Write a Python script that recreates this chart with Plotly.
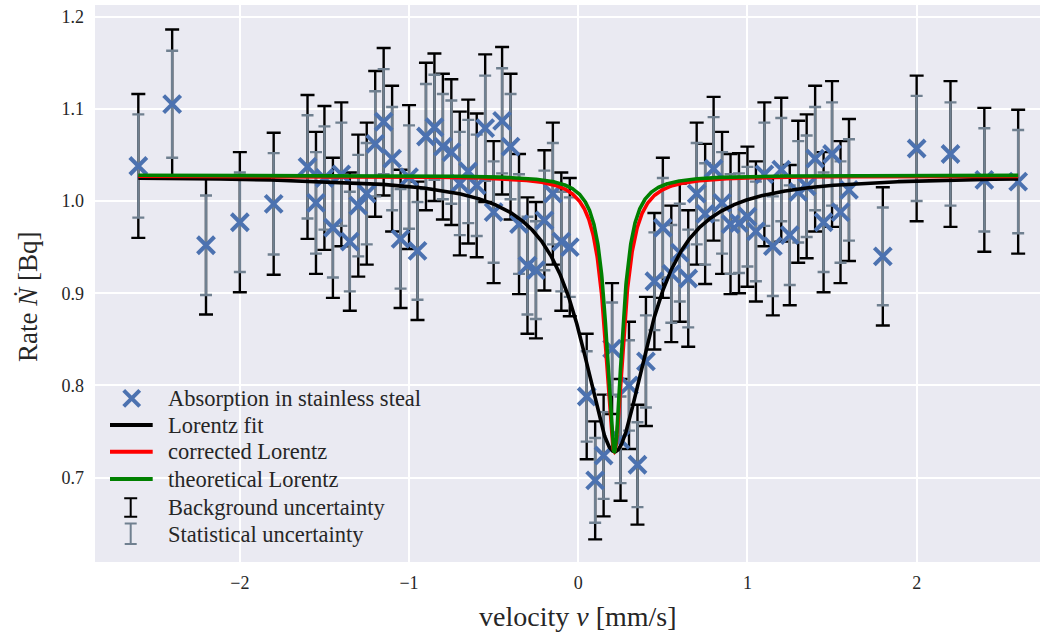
import numpy as np
import plotly.graph_objects as go

# ---------------- data ----------------
velocity = [-2.6, -2.4, -2.2, -2.0, -1.8,
            -1.60, -1.55, -1.50, -1.45, -1.40, -1.35, -1.30, -1.25, -1.20, -1.15,
            -1.10, -1.05, -1.00, -0.95, -0.90, -0.85, -0.80, -0.75, -0.70, -0.65,
            -0.60, -0.55, -0.50, -0.45, -0.40, -0.35, -0.30, -0.25, -0.20, -0.15,
            -0.10, -0.05,
            0.05, 0.10, 0.15, 0.20, 0.25, 0.30, 0.35, 0.40, 0.45, 0.50,
            0.55, 0.60, 0.65, 0.70, 0.75, 0.80, 0.85, 0.90, 0.95, 1.00,
            1.05, 1.10, 1.15, 1.20, 1.25, 1.30, 1.35, 1.40, 1.45, 1.50,
            1.55, 1.60,
            1.8, 2.0, 2.2, 2.4, 2.6]

rate = [1.038, 1.105, 0.952, 0.977, 0.997,
        1.037, 0.998, 1.025, 0.971, 1.029, 0.956, 0.995, 1.008, 1.062, 1.086,
        1.046, 0.959, 1.026, 0.946, 1.070, 1.080, 1.059, 1.053, 1.019, 1.032,
        1.017, 1.079, 0.988, 1.087, 1.059, 0.975, 0.930, 0.925, 0.979, 1.008,
        0.956, 0.950,
        0.788, 0.697, 0.724, 0.840, 0.741, 0.800, 0.714, 0.826, 0.913, 0.971,
        0.921, 0.944, 0.916, 1.008, 0.986, 1.035, 0.998, 0.975, 0.976, 0.983,
        0.967, 1.029, 0.951, 1.034, 0.963, 1.010, 1.016, 1.046, 0.977, 1.051,
        0.988, 1.012,
        0.940, 1.057, 1.051, 1.023, 1.021]

stat_err = [0.056, 0.058, 0.054, 0.054, 0.055,
            0.056, 0.055, 0.056, 0.054, 0.056, 0.054, 0.055, 0.055, 0.057, 0.057,
            0.056, 0.054, 0.056, 0.053, 0.057, 0.057, 0.057, 0.056, 0.056, 0.056,
            0.055, 0.057, 0.055, 0.057, 0.057, 0.054, 0.053, 0.053, 0.054, 0.055,
            0.054, 0.054,
            0.049, 0.046, 0.047, 0.050, 0.047, 0.049, 0.046, 0.050, 0.053, 0.054,
            0.053, 0.053, 0.053, 0.055, 0.055, 0.056, 0.055, 0.054, 0.054, 0.054,
            0.054, 0.056, 0.054, 0.056, 0.054, 0.055, 0.055, 0.056, 0.054, 0.056,
            0.055, 0.055,
            0.053, 0.057, 0.056, 0.056, 0.056]

bg_err = [0.078, 0.081, 0.075, 0.076, 0.077,
          0.078, 0.077, 0.078, 0.076, 0.078, 0.075, 0.077, 0.077, 0.079, 0.080,
          0.079, 0.075, 0.078, 0.075, 0.080, 0.080, 0.079, 0.079, 0.078, 0.078,
          0.078, 0.080, 0.077, 0.080, 0.079, 0.076, 0.074, 0.074, 0.076, 0.077,
          0.075, 0.075,
          0.068, 0.064, 0.066, 0.071, 0.066, 0.069, 0.065, 0.070, 0.074, 0.076,
          0.074, 0.075, 0.074, 0.077, 0.076, 0.078, 0.077, 0.076, 0.076, 0.076,
          0.076, 0.078, 0.075, 0.078, 0.076, 0.077, 0.078, 0.079, 0.076, 0.079,
          0.077, 0.077,
          0.075, 0.079, 0.079, 0.078, 0.078]

# Lorentz parameters (offset, depth, centre, half width)
fit_params = (1.027, 0.299, 0.215, 0.240)
corrected_params = (1.027, 0.299, 0.213, 0.065)
theoretical_params = (1.028, 0.300, 0.213, 0.056)

x_ticks = [-2, -1, 0, 1, 2]
y_ticks = [0.7, 0.8, 0.9, 1.0, 1.1, 1.2]


def lorentz(x, c, a, x0, g):
    return c - a * g ** 2 / ((x - x0) ** 2 + g ** 2)


xs = np.linspace(min(velocity), max(velocity), 3000)

BLUE = "#4C72B0"
GRAY = "#708090"
TXT = "#262626"
FONT = "Liberation Serif"

fig = go.Figure()

fig.add_trace(go.Scatter(
    x=velocity, y=rate, mode="markers",
    marker=dict(size=1, color="rgba(0,0,0,0)"),
    error_y=dict(type="data", array=bg_err, color="black", thickness=2.4, width=7),
    showlegend=False, hoverinfo="skip"))
fig.add_trace(go.Scatter(
    x=velocity, y=rate, mode="markers",
    marker=dict(size=1, color="rgba(0,0,0,0)"),
    error_y=dict(type="data", array=stat_err, color=GRAY, thickness=2.4, width=6),
    showlegend=False, hoverinfo="skip"))
fig.add_trace(go.Scatter(
    x=velocity, y=rate, mode="markers",
    marker=dict(symbol="x-thin", size=17, color=BLUE, line=dict(width=4, color=BLUE)),
    showlegend=False))
for params, col in [(fit_params, "black"), (corrected_params, "red"),
                    (theoretical_params, "green")]:
    fig.add_trace(go.Scatter(x=xs, y=lorentz(xs, *params), mode="lines",
                             line=dict(color=col, width=3.6), showlegend=False))

# ---------------- manual legend ----------------
L, R, T, B = 95, 1040, 5, 562
W, H = R - L, B - T


def px(xp):
    return (xp - L) / W


def py(yp):
    return (B - yp) / H


shapes = []
annotations = []
# marker symbol
shapes.append(dict(type="path", xref="paper", yref="paper", xsizemode="pixel",
                   ysizemode="pixel", xanchor=px(131.7), yanchor=py(398.3),
                   path="M-8,-8L8,8M-8,8L8,-8", line=dict(color=BLUE, width=4)))
for yy, col in [(425, "black"), (451.7, "red"), (479, "green")]:
    shapes.append(dict(type="line", xref="paper", yref="paper", x0=px(110), x1=px(152.7),
                       y0=py(yy), y1=py(yy), line=dict(color=col, width=4)))
for yy, half, col, cw in [(507.5, 9.2, "black", 6.5), (533.7, 10.3, GRAY, 6.0)]:
    shapes.append(dict(type="path", xref="paper", yref="paper", xsizemode="pixel",
                       ysizemode="pixel", xanchor=px(130.7), yanchor=py(yy),
                       path=f"M0,-{half}L0,{half}M-{cw},-{half}L{cw},-{half}M-{cw},{half}L{cw},{half}",
                       line=dict(color=col, width=2)))
labels = ["Absorption in stainless steal", "Lorentz fit", "corrected Lorentz",
          "theoretical Lorentz", "Background uncertainty", "Statistical uncertainty"]
rows = [398, 425, 451.7, 479, 507.3, 534]
for lab, yy in zip(labels, rows):
    annotations.append(dict(text=lab, xref="paper", yref="paper", x=px(166), y=py(yy),
                            xanchor="left", yanchor="middle", showarrow=False,
                            font=dict(family=FONT, size=22.5, color=TXT)))

# axis titles
annotations.append(dict(text="velocity <i>v</i> [mm/s]", xref="paper", yref="paper",
                        x=px(578), y=py(633), xanchor="center", yanchor="bottom",
                        showarrow=False, borderpad=0,
                        font=dict(family=FONT, size=28, color=TXT)))
annotations.append(dict(text="Rate <i>Ṅ</i> [Bq]", xref="paper", yref="paper",
                        x=px(28), y=py(297), xanchor="center", yanchor="middle",
                        textangle=-90, showarrow=False,
                        font=dict(family=FONT, size=27, color=TXT)))

fig.update_layout(
    width=1052, height=634,
    margin=dict(l=L, r=1052 - R, t=T, b=634 - B),
    paper_bgcolor="white", plot_bgcolor="#EAEAF2",
    showlegend=False, shapes=shapes, annotations=annotations,
    font=dict(family=FONT, color=TXT),
)
fig.update_xaxes(range=[-2.856, 2.729], tickvals=x_ticks,
                 ticktext=[("−" + str(abs(v))) if v < 0 else str(v) for v in x_ticks],
                 showgrid=True, gridcolor="white", gridwidth=1.8, zeroline=False,
                 showline=False, ticks="", ticklabelstandoff=8,
                 tickfont=dict(family=FONT, size=18, color=TXT))
fig.update_yaxes(range=[0.6085, 1.2126], tickvals=y_ticks,
                 ticktext=[f"{v:.1f}" for v in y_ticks],
                 showgrid=True, gridcolor="white", gridwidth=1.8, zeroline=False,
                 showline=False, ticks="", ticklabelstandoff=10,
                 tickfont=dict(family=FONT, size=18, color=TXT))

fig.write_html("out.html")
